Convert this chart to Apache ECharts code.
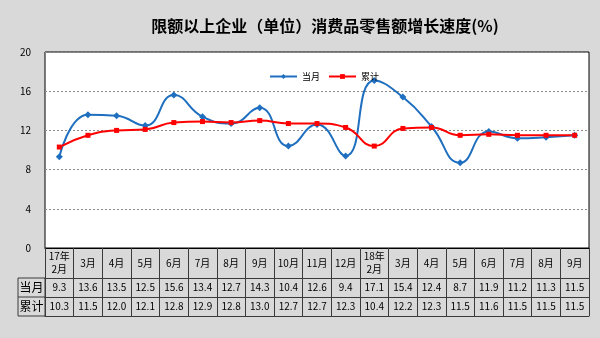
<!DOCTYPE html>
<html>
<head>
<meta charset="utf-8">
<script src="https://cdn.jsdelivr.net/npm/echarts@6/dist/echarts.min.js"></script>
<style>
  html, body { margin: 0; padding: 0; background: #d9d9d9; }
  #chart { width: 600px; height: 338px; }
</style>
</head>
<body>
<div id="chart"></div>
<script>
// Months shown along the axis (and in the table header)
const categories = ['17年\n2月', '3月', '4月', '5月', '6月', '7月', '8月', '9月', '10月', '11月', '12月',
  '18年\n2月', '3月', '4月', '5月', '6月', '7月', '8月', '9月'];
// Growth rate of the current month (%)
const monthly = [9.3, 13.6, 13.5, 12.5, 15.6, 13.4, 12.7, 14.3, 10.4, 12.6, 9.4,
  17.1, 15.4, 12.4, 8.7, 11.9, 11.2, 11.3, 11.5];
// Cumulative growth rate (%)
const cumulative = [10.3, 11.5, 12.0, 12.1, 12.8, 12.9, 12.8, 13.0, 12.7, 12.7, 12.3,
  10.4, 12.2, 12.3, 11.5, 11.6, 11.5, 11.5, 11.5];
// Value axis ticks
const yTicks = { min: 0, max: 20, interval: 4 };

const FONT = '"Noto Sans CJK SC", "Noto Sans", sans-serif';
const tableLine = '#3a3a3a';

// Plot region
const G = { left: 45, right: 11, top: 52, bottom: 90 };
const plotBottom = 338 - G.bottom;
const rowTop = [30, 49, 68]; // offsets of table row lines below the plot

const chart = echarts.init(document.getElementById('chart'));

const rowAxis = (vals, offset, show) => ({
  type: 'category',
  gridIndex: 0,
  position: 'bottom',
  offset: offset,
  boundaryGap: true,
  data: vals,
  axisLine: { show: true, lineStyle: { color: tableLine, width: 1 } },
  axisTick: { show: false },
  axisLabel: {
    show: show,
    interval: 0,
    margin: 9.5,
    verticalAlign: 'middle',
    color: '#000',
    fontSize: 10,
    fontFamily: FONT
  },
  splitLine: { show: false }
});

chart.setOption({
  backgroundColor: '#d9d9d9',
  animation: false,
  title: {
    text: '限额以上企业（单位）消费品零售额增长速度(%)',
    left: 320,
    textAlign: 'center',
    top: 13,
    textStyle: { fontSize: 16, fontWeight: 'bold', color: '#000', fontFamily: FONT }
  },
  legend: {
    data: ['当月', '累计'],
    left: 264,
    top: 67,
    itemWidth: 27,
    itemHeight: 6,
    itemGap: 8,
    textStyle: { fontSize: 9, color: '#000', fontFamily: FONT }
  },
  grid: {
    left: G.left, right: G.right, top: G.top, bottom: G.bottom,
    show: true,
    backgroundColor: '#ffffff',
    borderColor: '#000',
    borderWidth: 1
  },
  xAxis: [
    {
      type: 'category',
      data: categories,
      boundaryGap: true,
      axisLine: { show: true, lineStyle: { color: '#000', width: 1 } },
      axisTick: { show: true, length: 68, interval: 0, lineStyle: { color: tableLine } },
      axisLabel: {
        interval: 0,
        margin: 15,
        verticalAlign: 'middle',
        lineHeight: 13,
        color: '#000',
        fontSize: 10,
        fontFamily: FONT
      },
      splitLine: { show: false }
    },
    rowAxis(monthly.map(v => v.toFixed(1)), rowTop[0], true),
    rowAxis(cumulative.map(v => v.toFixed(1)), rowTop[1], true),
    rowAxis(categories.map(() => ''), rowTop[2], false)
  ],
  yAxis: {
    type: 'value',
    min: yTicks.min,
    max: yTicks.max,
    interval: yTicks.interval,
    axisLine: { show: false },
    axisTick: { show: false },
    axisLabel: { margin: 14, color: '#000', fontSize: 10, fontFamily: FONT },
    splitLine: { show: true, lineStyle: { color: '#8c8c8c', type: [2, 2], width: 1 } }
  },
  graphic: [
    // row header cells of the data table
    {
      type: 'rect',
      shape: { x: 18, y: plotBottom + rowTop[0], width: G.left - 18, height: rowTop[2] - rowTop[0] },
      style: { fill: 'none', stroke: tableLine, lineWidth: 1 }
    },
    {
      type: 'line',
      shape: { x1: 18, y1: plotBottom + rowTop[1], x2: G.left, y2: plotBottom + rowTop[1] },
      style: { stroke: tableLine, lineWidth: 1 }
    },
    {
      type: 'text',
      x: (18 + G.left) / 2,
      y: plotBottom + (rowTop[0] + rowTop[1]) / 2,
      style: { text: '当月', fill: '#000', fontSize: 12, fontFamily: FONT, align: 'center', verticalAlign: 'middle' }
    },
    {
      type: 'text',
      x: (18 + G.left) / 2,
      y: plotBottom + (rowTop[1] + rowTop[2]) / 2,
      style: { text: '累计', fill: '#000', fontSize: 12, fontFamily: FONT, align: 'center', verticalAlign: 'middle' }
    }
  ],
  series: [
    {
      name: '当月',
      type: 'line',
      data: monthly,
      smooth: 0.5,
      symbol: 'diamond',
      symbolSize: 7,
      itemStyle: { color: '#1f6fc0' },
      lineStyle: { color: '#1f6fc0', width: 2 }
    },
    {
      name: '累计',
      type: 'line',
      data: cumulative,
      smooth: 0.5,
      symbol: 'rect',
      symbolSize: 5,
      itemStyle: { color: '#ff0000' },
      lineStyle: { color: '#ff0000', width: 2 }
    }
  ]
});
</script>
</body>
</html>
